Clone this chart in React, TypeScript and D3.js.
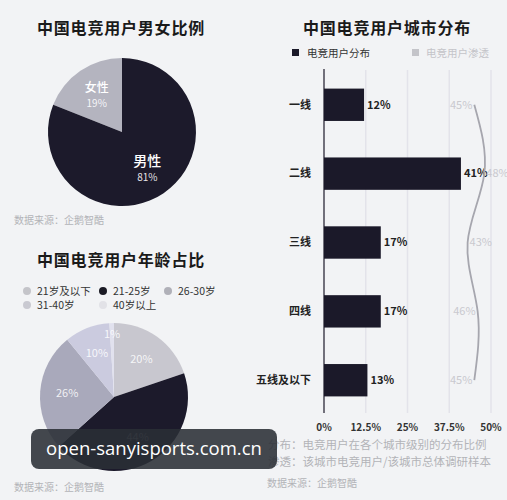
import React from "react";
import * as d3 from "d3";

const W = 507;
const H = 500;
const FONT = "'Noto Sans CJK SC', 'Noto Sans', sans-serif";

// Gender data
const genderLabels = ["女性", "男性"];
const genderValues = [19, 81];

// Age data (clockwise from 12 o'clock)
const ageLabels = ["21岁及以下", "21-25岁", "26-30岁", "31-40岁", "40岁以上"];
const ageValues = [20, 44, 26, 10, 1];

// City data
const cityCategories = ["一线", "二线", "三线", "四线", "五线及以下"];
const cityDistribution = [12, 41, 17, 17, 13];
const cityPenetration = [45, 48, 43, 46, 45];
const xTicks = [0, 12.5, 25, 37.5, 50];
const xTickLabels = ["0%", "12.5%", "25%", "37.5%", "50%"];

const genderColors = ["#b4b4bf", "#1c1a2b"];
const ageColors = ["#c8c7cf", "#1c1a2b", "#a9a9bb", "#cbcbdf", "#e1e1ee"];
const legendColors = ["#c4c4c9", "#1a1a24", "#b0b0b8", "#c9c9d1", "#e2e2e7"];

function GenderPie() {
  const cx = 122, cy = 132, r = 74;
  const start = -2 * Math.PI * genderValues[0] / 100;
  const pie = d3.pie<number>().sort(null).startAngle(start).endAngle(start + 2 * Math.PI);
  const arcs = pie(genderValues);
  const arc = d3.arc<d3.PieArcDatum<number>>().innerRadius(0).outerRadius(r);
  const labelArc = d3.arc<d3.PieArcDatum<number>>().innerRadius(45).outerRadius(45);
  return (
    <g transform={`translate(${cx},${cy})`}>
      {arcs.map((a, i) => (
        <path key={i} d={arc(a) || ""} fill={genderColors[i]} />
      ))}
      {arcs.map((a, i) => {
        const [x, y] = labelArc.centroid(a);
        return (
          <g key={"l" + i} transform={`translate(${x},${y})`} fill="#ffffff" fontFamily={FONT} textAnchor="middle">
            <text y={-3} fontSize={i === 1 ? 14 : 12} fontWeight={500}>{genderLabels[i]}</text>
            <text y={12} fontSize={10} fillOpacity={0.9}>{genderValues[i]}%</text>
          </g>
        );
      })}
    </g>
  );
}

function AgePie() {
  const cx = 114, cy = 397, r = 74;
  const pie = d3.pie<number>().sort(null);
  const arcs = pie(ageValues);
  const arc = d3.arc<d3.PieArcDatum<number>>().innerRadius(0).outerRadius(r);
  return (
    <g transform={`translate(${cx},${cy})`}>
      {arcs.map((a, i) => (
        <path key={i} d={arc(a) || ""} fill={ageColors[i]} />
      ))}
      {arcs.map((a, i) => {
        const lr = ageValues[i] < 5 ? 63 : 47;
        const [x, y] = d3.arc<d3.PieArcDatum<number>>().innerRadius(lr).outerRadius(lr).centroid(a);
        return (
          <text key={"l" + i} x={x} y={y} dy="0.35em" textAnchor="middle" fontFamily={FONT} fontSize={11}
            fill="#ffffff" fillOpacity={i === 1 ? 0.35 : 0.85}>{ageValues[i]}%</text>
        );
      })}
    </g>
  );
}

function AgeLegend() {
  const cols = [27, 103, 168];
  const rows = [291, 305];
  return (
    <g fontFamily={FONT} fontSize={10.5} fill="#333">
      {ageLabels.map((l, i) => {
        const cxp = cols[i % 3];
        const cyp = rows[Math.floor(i / 3)];
        return (
          <g key={i}>
            <circle cx={cxp} cy={cyp} r={4} fill={legendColors[i]} />
            <text x={cxp + 10} y={cyp} dy="0.35em">{l}</text>
          </g>
        );
      })}
    </g>
  );
}

function CityChart() {
  const x = d3.scaleLinear().domain([0, 50]).range([324, 491]);
  const y = d3.scaleBand<string>().domain(cityCategories).range([70, 415]).paddingInner(0.53).paddingOuter(0.27);
  const bw = y.bandwidth();
  const line = d3.line<number>()
    .x((d) => x(d))
    .y((_, i) => (y(cityCategories[i]) || 0) + bw / 2)
    .curve(d3.curveNatural);
  const sides = cityPenetration.map((v, i) => (i === 1 || i === 2 ? "start" : "end"));
  return (
    <g fontFamily={FONT}>
      {xTicks.slice(1).map((t, i) => (
        <line key={i} x1={x(t)} x2={x(t)} y1={70} y2={413} stroke="#e3e3ea" strokeWidth={1.5} />
      ))}
      {cityCategories.map((c, i) => (
        <rect key={c} x={x(0)} y={y(c)} width={x(cityDistribution[i]) - x(0)} height={bw} fill="#1b1929" />
      ))}
      <line x1={x(0)} x2={x(0)} y1={69} y2={413} stroke="#1b1929" strokeWidth={1.2} />
      {cityCategories.map((c) => (
        <text key={"c" + c} x={311} y={(y(c) || 0) + bw / 2} dy="0.35em" textAnchor="end" fontSize={11} fontWeight={700} fill="#222">{c}</text>
      ))}
      {cityCategories.map((c, i) => (
        <text key={"v" + c} x={x(cityDistribution[i]) + 3} y={(y(c) || 0) + bw / 2} dy="0.35em" fontSize={11} fontWeight={700} fill="#222">{cityDistribution[i]}%</text>
      ))}
      <path d={line(cityPenetration) || ""} fill="none" stroke="#a6a6ae" strokeWidth={1.8} />
      {cityCategories.map((c, i) => (
        <text key={"p" + c} x={x(cityPenetration[i]) + (sides[i] === "start" ? 2 : -2)} y={(y(c) || 0) + bw / 2} dy="0.35em"
          textAnchor={sides[i]} fontSize={11} fill="#c9c9cf">{cityPenetration[i]}%</text>
      ))}
      {xTicks.map((t, i) => (
        <text key={"t" + i} x={x(t)} y={427} dy="0.35em" textAnchor="middle" fontSize={10} fontWeight={600} fill="#333">{xTickLabels[i]}</text>
      ))}
      <rect x={292} y={49} width={7} height={7} fill="#1b1929" />
      <text x={307} y={53} dy="0.35em" fontSize={10.5} fill="#333">电竞用户分布</text>
      <rect x={412} y={49} width={7} height={7} fill="#c4c4c9" />
      <text x={426} y={53} dy="0.35em" fontSize={10.5} fill="#c4c4c9">电竞用户渗透</text>
    </g>
  );
}

export default function App() {
  return (
    <svg width={W} height={H} style={{ position: "absolute", left: 0, top: 0, display: "block" }}>
      <rect width={W} height={H} fill="#f2f3f5" />
      <g fontFamily={FONT} fontWeight={700} fontSize={16} fill="#1a1a1a" letterSpacing={0.8}>
        <text x={37} y={28} dy="0.35em">中国电竞用户男女比例</text>
        <text x={303} y={28} dy="0.35em">中国电竞用户城市分布</text>
        <text x={37} y={260} dy="0.35em">中国电竞用户年龄占比</text>
      </g>
      <GenderPie />
      <AgePie />
      <AgeLegend />
      <CityChart />
      <g fontFamily={FONT} fontSize={10} fill="#b3b3b8">
        <text x={14} y={220} dy="0.35em">数据来源：企鹅智酷</text>
        <text x={14} y={487} dy="0.35em">数据来源：企鹅智酷</text>
        <text x={267} y={483} dy="0.35em">数据来源：企鹅智酷</text>
        <text x={268} y={445} dy="0.35em" fontSize={11.5}>分布：电竞用户在各个城市级别的分布比例</text>
        <text x={268} y={462} dy="0.35em" fontSize={11.5}>渗透：该城市电竞用户/该城市总体调研样本</text>
      </g>
      <rect x={31} y={429} width={246} height={40} rx={8} fill="#2a2f36" fillOpacity={0.88} />
      <text x={154} y={449} dy="0.35em" textAnchor="middle" fontFamily="'Open Sans', sans-serif" fontSize={18.5} fill="#ffffff">open-sanyisports.com.cn</text>
    </svg>
  );
}
